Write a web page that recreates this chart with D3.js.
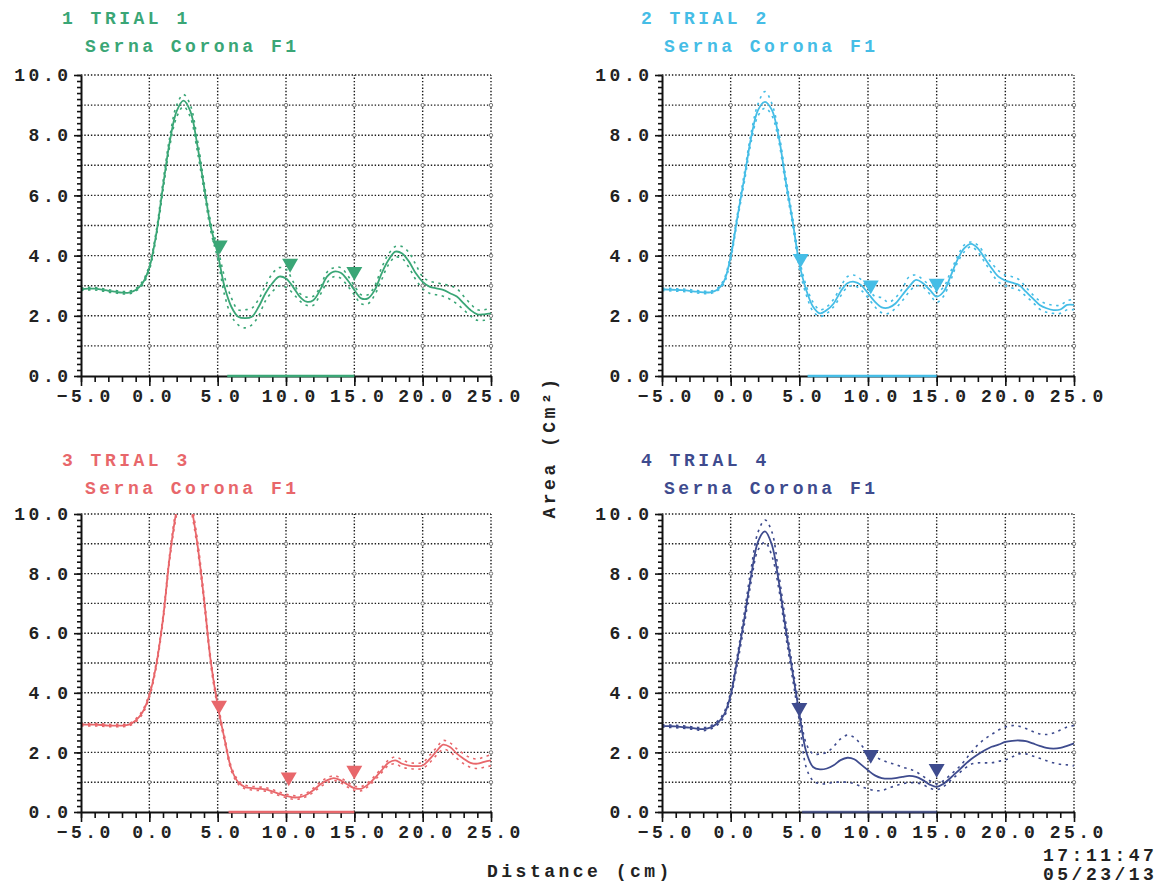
<!DOCTYPE html>
<html>
<head>
<meta charset="utf-8">
<script src="https://cdn.jsdelivr.net/npm/d3@7"></script>
<style>
  html, body { margin: 0; padding: 0; background: #fff; }
  svg { display: block; }
  text { font-family: "Liberation Mono", "DejaVu Sans Mono", monospace; font-weight: bold; }
</style>
</head>
<body>
<svg id="chart" width="1168" height="886"></svg>
<script>
// ---------------- DATA ----------------
const distance = [-5,-4.5,-4,-3.5,-3,-2.5,-2,-1.5,-1,-0.5,0,0.5,1,1.5,2,2.5,3,3.5,4,4.5,5,5.5,6,6.5,7,7.5,8,8.5,9,9.5,10,10.5,11,11.5,12,12.5,13,13.5,14,14.5,15,15.5,16,16.5,17,17.5,18,18.5,19,19.5,20,20.5,21,21.5,22,22.5,23,23.5,24,24.5,25];

const trialTitles = ["1 TRIAL 1", "2 TRIAL 2", "3 TRIAL 3", "4 TRIAL 4"];
const trialSubtitle = "Serna Corona F1";

const trial1Mean = [2.88,2.9,2.9,2.87,2.83,2.8,2.77,2.77,2.86,3.08,3.6,4.7,6.3,7.8,8.8,9.15,8.8,7.7,6.3,4.95,4.07,2.97,2.3,1.97,1.92,1.97,2.3,2.75,3.08,3.3,3.24,2.97,2.64,2.47,2.52,2.86,3.3,3.47,3.43,3.19,2.86,2.58,2.58,2.86,3.41,3.85,4.13,4.07,3.8,3.41,3.13,2.97,2.91,2.86,2.75,2.64,2.41,2.19,2.05,2.05,2.08];
const trial1Upper = [2.92,2.94,2.94,2.91,2.87,2.84,2.81,2.81,2.9,3.14,3.68,4.8,6.45,7.95,9.0,9.35,9.0,7.9,6.45,5.1,4.25,3.3,2.6,2.2,2.2,2.25,2.55,3.0,3.4,3.6,3.55,3.15,2.75,2.62,2.65,2.95,3.45,3.6,3.6,3.35,3.0,2.7,2.7,3.0,3.6,4.05,4.3,4.3,4.1,3.7,3.3,3.15,3.1,3.05,3.0,2.9,2.65,2.4,2.2,2.2,2.25];
const trial1Lower = [2.84,2.86,2.86,2.83,2.79,2.76,2.73,2.73,2.82,3.02,3.52,4.6,6.15,7.65,8.6,8.95,8.6,7.5,6.15,4.8,3.9,2.7,2.0,1.7,1.6,1.7,2.0,2.5,2.8,3.0,2.95,2.75,2.5,2.35,2.35,2.7,3.1,3.3,3.25,3.0,2.7,2.4,2.4,2.7,3.2,3.7,3.95,3.9,3.6,3.2,2.9,2.75,2.7,2.65,2.55,2.4,2.2,2.0,1.85,1.85,1.9];

const trial2Mean = [2.88,2.87,2.86,2.85,2.83,2.8,2.78,2.78,2.86,3.13,3.96,5.3,6.6,7.95,8.84,9.11,8.84,7.95,6.5,5.18,3.74,2.86,2.3,2.08,2.19,2.41,2.8,3.08,3.13,3.02,2.75,2.47,2.28,2.27,2.41,2.69,2.97,3.19,3.08,2.86,2.64,2.8,3.3,3.85,4.24,4.39,4.24,3.91,3.58,3.3,3.17,3.1,3.02,2.8,2.58,2.36,2.25,2.19,2.21,2.36,2.36];
const trial2Upper = [2.92,2.91,2.9,2.89,2.87,2.84,2.82,2.82,2.9,3.2,4.05,5.4,6.75,8.1,9.05,9.45,9.05,8.1,6.65,5.3,3.9,3.0,2.45,2.2,2.3,2.55,2.95,3.3,3.35,3.2,2.9,2.65,2.6,2.45,2.6,2.9,3.3,3.35,3.2,3.0,2.8,2.95,3.45,3.95,4.35,4.45,4.35,4.05,3.75,3.5,3.35,3.3,3.2,2.95,2.7,2.5,2.4,2.35,2.35,2.5,2.55];
const trial2Lower = [2.84,2.83,2.82,2.81,2.79,2.76,2.74,2.74,2.82,3.06,3.87,5.2,6.45,7.8,8.65,8.9,8.65,7.8,6.35,5.05,3.58,2.7,2.15,1.98,2.08,2.3,2.65,2.95,3.0,2.85,2.6,2.3,2.1,2.08,2.25,2.5,2.8,3.0,2.95,2.72,2.45,2.65,3.15,3.75,4.12,4.3,4.12,3.78,3.42,3.12,3.0,2.92,2.85,2.65,2.45,2.22,2.12,2.08,2.08,2.2,2.2];

const trial3Mean = [2.93,2.93,2.93,2.92,2.9,2.9,2.9,2.93,3.07,3.35,3.91,4.92,6.48,8.6,10.15,11.2,10.4,9.05,7.15,5.03,3.58,2.46,1.45,1.0,0.84,0.8,0.78,0.76,0.69,0.61,0.54,0.49,0.5,0.58,0.73,0.92,1.06,1.14,1.06,0.92,0.8,0.78,0.92,1.14,1.4,1.65,1.73,1.62,1.56,1.54,1.56,1.77,2.03,2.26,2.18,1.96,1.79,1.65,1.62,1.68,1.73];
const trial3Upper = [2.97,2.97,2.97,2.96,2.94,2.94,2.94,2.97,3.12,3.41,3.98,5.0,6.58,8.7,10.3,11.35,10.55,9.2,7.28,5.14,3.68,2.55,1.52,1.06,0.9,0.86,0.84,0.82,0.75,0.67,0.6,0.55,0.56,0.64,0.8,1.0,1.14,1.22,1.14,1.0,0.87,0.85,0.99,1.21,1.48,1.74,1.85,1.75,1.66,1.64,1.66,1.9,2.15,2.4,2.32,2.12,1.95,1.82,1.78,1.85,1.92];
const trial3Lower = [2.89,2.89,2.89,2.88,2.86,2.86,2.86,2.89,3.02,3.29,3.84,4.84,6.38,8.5,10.0,11.05,10.25,8.9,7.02,4.92,3.48,2.37,1.38,0.94,0.78,0.74,0.72,0.7,0.63,0.55,0.48,0.43,0.44,0.52,0.66,0.84,0.98,1.06,0.98,0.84,0.73,0.71,0.85,1.07,1.32,1.56,1.62,1.5,1.46,1.44,1.46,1.65,1.9,2.1,2.02,1.8,1.62,1.5,1.46,1.5,1.55];

const trial4Mean = [2.89,2.88,2.87,2.85,2.83,2.8,2.78,2.83,2.97,3.25,3.92,5.16,6.5,7.96,9.08,9.42,8.97,7.74,6.17,4.71,3.3,2.02,1.51,1.43,1.46,1.57,1.74,1.82,1.77,1.59,1.4,1.23,1.14,1.12,1.14,1.18,1.21,1.18,1.07,0.92,0.84,0.95,1.14,1.35,1.57,1.77,1.93,2.07,2.19,2.26,2.35,2.39,2.4,2.38,2.3,2.22,2.15,2.13,2.15,2.22,2.3];
const trial4Upper = [2.93,2.92,2.91,2.89,2.87,2.84,2.83,2.88,3.03,3.33,4.02,5.3,6.7,8.2,9.4,9.8,9.4,8.0,6.4,4.9,3.5,2.3,1.95,1.95,2.0,2.2,2.45,2.58,2.5,2.25,2.0,1.85,1.75,1.65,1.6,1.5,1.45,1.35,1.2,1.05,0.95,1.05,1.25,1.45,1.7,2.0,2.25,2.45,2.6,2.75,2.85,2.9,2.88,2.8,2.7,2.62,2.6,2.65,2.75,2.85,2.9];
const trial4Lower = [2.85,2.84,2.83,2.81,2.79,2.76,2.73,2.78,2.91,3.17,3.82,5.0,6.3,7.75,8.8,9.05,8.6,7.5,5.95,4.5,3.05,1.5,1.05,0.95,0.95,1.0,1.0,1.0,0.95,0.85,0.78,0.72,0.72,0.8,0.88,0.95,0.98,0.98,0.92,0.8,0.75,0.85,1.05,1.25,1.45,1.6,1.65,1.65,1.65,1.7,1.75,1.85,1.95,1.95,1.88,1.8,1.72,1.65,1.6,1.58,1.55];

// markers (down triangles): distance and area
const trial1MarkerX = [5.15, 10.3, 15.0], trial1MarkerY = [4.35, 3.74, 3.47];
const trial2MarkerX = [5.1, 10.2, 15.0],  trial2MarkerY = [3.9, 3.02, 3.08];
const trial3MarkerX = [5.1, 10.2, 15.0],  trial3MarkerY = [3.58, 1.17, 1.4];
const trial4MarkerX = [5.0, 10.2, 15.0],  trial4MarkerY = [3.5, 1.93, 1.46];

// highlighted baseline region per trial [start, end]
const regionStart = [5.7, 5.6, 5.8, 5.2];
const regionEnd   = [15.0, 15.0, 15.0, 15.0];

const xTickLabels = [-5, 0, 5, 10, 15, 20, 25];
const yTickLabels = [0, 2, 4, 6, 8, 10];
const yAxisTitle = "Area (Cm²)";
const xAxisTitle = "Distance (cm)";
const timeStamp = "17:11:47";
const dateStamp = "05/23/13";

// ---------------- LAYOUT / STYLE ----------------
const colors = ["#3aa676", "#45bde6", "#e8676b", "#3e4b8e"];
const boxes = [
  {left: 81,  right: 491,  top: 75,  bottom: 376, tx: 62,  ty: 24},
  {left: 662, right: 1074, top: 75,  bottom: 376, tx: 641, ty: 24},
  {left: 81,  right: 491,  top: 514, bottom: 812, tx: 62,  ty: 466},
  {left: 662, right: 1074, top: 514, bottom: 812, tx: 641, ty: 466}
];
const trials = [
  {mean: trial1Mean, upper: trial1Upper, lower: trial1Lower, mx: trial1MarkerX, my: trial1MarkerY},
  {mean: trial2Mean, upper: trial2Upper, lower: trial2Lower, mx: trial2MarkerX, my: trial2MarkerY},
  {mean: trial3Mean, upper: trial3Upper, lower: trial3Lower, mx: trial3MarkerX, my: trial3MarkerY},
  {mean: trial4Mean, upper: trial4Upper, lower: trial4Lower, mx: trial4MarkerX, my: trial4MarkerY}
];

const svg = d3.select("#chart");
const FONT = 18, LS = 3.5;
const fmt = d3.format(".1f");

trials.forEach((t, i) => {
  const b = boxes[i];
  const color = colors[i];
  const x = d3.scaleLinear().domain([-5, 25]).range([b.left, b.right]);
  const y = d3.scaleLinear().domain([0, 10]).range([b.bottom, b.top]);
  const g = svg.append("g");

  // titles
  g.append("text").attr("x", b.tx).attr("y", b.ty)
    .attr("fill", color).attr("font-size", FONT).attr("letter-spacing", LS)
    .text(trialTitles[i]);
  g.append("text").attr("x", b.tx + 23).attr("y", b.ty + 28)
    .attr("fill", color).attr("font-size", FONT).attr("letter-spacing", LS)
    .text(trialSubtitle);

  // dotted grid
  const grid = g.append("g").attr("stroke", "#1a1a1a").attr("stroke-width", 1.4)
    .attr("stroke-dasharray", "1.4,1.9");
  grid.selectAll("line.h").data(d3.range(1, 11)).join("line")
    .attr("x1", x(-5)).attr("x2", x(25))
    .attr("y1", d => y(d)).attr("y2", d => y(d));
  grid.selectAll("line.v").data([0, 5, 10, 15, 20, 25]).join("line")
    .attr("x1", d => x(d)).attr("x2", d => x(d))
    .attr("y1", y(0)).attr("y2", y(10));

  // small circles at grid intersections
  const pts = [];
  [0, 5, 10, 15, 20, 25].forEach(xv => d3.range(1, 10).forEach(yv => pts.push([xv, yv])));
  g.append("g").selectAll("circle").data(pts).join("circle")
    .attr("cx", d => x(d[0])).attr("cy", d => y(d[1])).attr("r", 1.7)
    .attr("fill", "#fff").attr("stroke", "#555").attr("stroke-width", 0.8);

  // clip
  const clipId = "clip" + i;
  svg.append("clipPath").attr("id", clipId).append("rect")
    .attr("x", b.left).attr("y", b.top).attr("width", b.right - b.left + 2).attr("height", b.bottom - b.top);

  const plot = g.append("g").attr("clip-path", `url(#${clipId})`);
  const line = arr => d3.line().x((d, k) => x(distance[k])).y(d => y(d)).curve(d3.curveCatmullRom)(arr);

  plot.append("path").attr("d", line(t.upper)).attr("fill", "none")
    .attr("stroke", color).attr("stroke-width", 1.6).attr("stroke-dasharray", "2.5,4.5");
  plot.append("path").attr("d", line(t.lower)).attr("fill", "none")
    .attr("stroke", color).attr("stroke-width", 1.6).attr("stroke-dasharray", "2.5,4.5");
  plot.append("path").attr("d", line(t.mean)).attr("fill", "none")
    .attr("stroke", color).attr("stroke-width", 1.8);

  // axes
  const yMinor = d3.axisLeft(y).tickValues(d3.range(0, 10.01, 0.2)).tickSize(4).tickSizeOuter(0).tickFormat("");
  const yMajor = d3.axisLeft(y).tickValues(yTickLabels).tickSize(7).tickSizeOuter(0).tickFormat(fmt).tickPadding(6);
  const xMinor = d3.axisBottom(x).tickValues(d3.range(-5, 25.01, 1)).tickSize(6).tickSizeOuter(0).tickFormat("");
  const xMajor = d3.axisBottom(x).tickValues(xTickLabels).tickSize(10).tickSizeOuter(0).tickFormat(fmt).tickPadding(3);

  const styleAxis = sel => {
    sel.selectAll("path.domain").attr("stroke", "#111").attr("stroke-width", 2);
    sel.selectAll(".tick line").attr("stroke", "#111").attr("stroke-width", 1.6);
    sel.selectAll("text").attr("fill", "#222").attr("font-size", FONT).attr("letter-spacing", LS)
      .style("font-family", '"Liberation Mono", monospace').style("font-weight", "bold");
  };
  g.append("g").attr("transform", `translate(${b.left},0)`).call(yMinor).call(styleAxis);
  g.append("g").attr("transform", `translate(${b.left},0)`).call(yMajor).call(styleAxis)
    .call(s => s.select("path.domain").remove())
    .selectAll("text").attr("dx", LS);
  g.append("g").attr("transform", `translate(0,${b.bottom})`).call(xMinor).call(styleAxis);
  g.append("g").attr("transform", `translate(0,${b.bottom})`).call(xMajor).call(styleAxis)
    .call(s => s.select("path.domain").remove())
    .selectAll("text").attr("dx", LS / 2 + 2);

  // highlighted baseline region
  g.append("line").attr("x1", x(regionStart[i])).attr("x2", x(regionEnd[i]))
    .attr("y1", y(0)).attr("y2", y(0)).attr("stroke", color).attr("stroke-width", 2.6)
    .attr("opacity", i === 3 ? 0.7 : 1);

  // markers
  const tri = d3.symbol().type(d3.symbolTriangle).size(110);
  g.append("g").selectAll("path").data(t.mx).join("path")
    .attr("d", tri)
    .attr("transform", (d, k) => `translate(${x(d)},${y(t.my[k])}) rotate(180)`)
    .attr("fill", color);
});

// global axis titles & stamp
svg.append("text").attr("transform", "translate(555,447) rotate(-90)")
  .attr("text-anchor", "middle").attr("font-size", FONT).attr("letter-spacing", LS)
  .attr("fill", "#222").text(yAxisTitle);
svg.append("text").attr("x", 487).attr("y", 877)
  .attr("font-size", FONT).attr("letter-spacing", LS).attr("fill", "#222").text(xAxisTitle);
svg.append("text").attr("x", 1043).attr("y", 861)
  .attr("font-size", FONT).attr("letter-spacing", LS).attr("fill", "#222").text(timeStamp);
svg.append("text").attr("x", 1043).attr("y", 880)
  .attr("font-size", FONT).attr("letter-spacing", LS).attr("fill", "#222").text(dateStamp);
</script>
</body>
</html>
